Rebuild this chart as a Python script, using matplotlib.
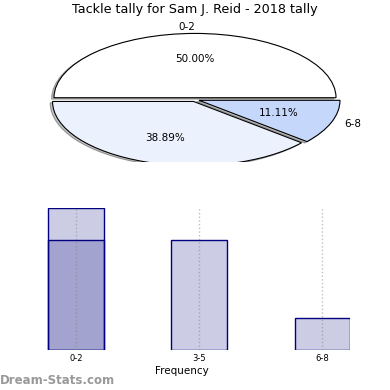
"""Tackle tally pie + bar chart for Sam J. Reid (2018)."""

import matplotlib

matplotlib.use("Agg")
import matplotlib.pyplot as plt  # noqa: E402

BINS = ["0-2", "3-5", "6-8"]
TALLY = [9, 7, 2]
OVERLAY = [7]  # darker band on the first bar
PIE_COLORS = ["#ffffff", "#ebf1fd", "#c5d7fb"]

W = H = 390.0


def px_axes(fig, x0, y0, x1, y1):
    # axes placed by pixel box (top-left origin)
    return fig.add_axes([x0 / W, 1 - y1 / H, (x1 - x0) / W, (y1 - y0) / H])


fig = plt.figure(figsize=(3.9, 3.9), dpi=100)

# --- pie (squashed ellipse, clipped at the bottom) ---
ax = px_axes(fig, 20, 18, 370, 162)
wedges, texts, autotexts = ax.pie(
    TALLY,
    labels=BINS,
    colors=PIE_COLORS,
    autopct="%.2f%%",
    startangle=0,
    counterclock=True,
    explode=[0.03, 0.03, 0.03],
    shadow=dict(ox=-0.012, oy=-0.015, facecolor="#888888"),
    wedgeprops=dict(edgecolor="black", linewidth=0.8),
    textprops=dict(fontsize=7.5),
)
ax.set_aspect("auto")
ax.set_xlim(-1.241, 1.241)
ax.set_ylim(-0.97, 1.27)
ax.axis("off")
for p in ax.patches:
    p.set_clip_on(True)
for t in texts:
    t.set_clip_on(True)
fig.text(0.5, 1 - 10 / H, "Tackle tally for Sam J. Reid - 2018 tally",
         ha="center", va="center", fontsize=9.2)

# --- bars ---
bx = px_axes(fig, 14.5, 208, 350, 350)
pos = list(range(len(BINS)))
bx.bar(pos, TALLY, width=0.45, color="navy", alpha=0.2)
bx.bar(pos, TALLY, width=0.45, color="none", edgecolor="navy", linewidth=1.0)
bx.bar(pos[:1], OVERLAY, width=0.45, color="navy", alpha=0.2)
bx.bar(pos[:1], OVERLAY, width=0.45, color="none", edgecolor="navy", linewidth=1.0)
bx.set_xlim(-0.5, 2.225)
bx.set_ylim(0, 9)
bx.set_xticks(pos)
bx.set_xticklabels(BINS, fontsize=6)
bx.tick_params(length=0, pad=3)
bx.set_yticks([])
bx.grid(axis="x", color="gray", linestyle=":", linewidth=1, alpha=0.5)
bx.set_axisbelow(False)
for s in bx.spines.values():
    s.set_visible(False)
bx.set_xlabel("Frequency", fontsize=7.5, labelpad=2)

fig.text(0.0, 1 - 380 / H, "Dream-Stats.com", ha="left", va="center",
         fontsize=8.5, color="#999999", fontweight="bold")

fig.savefig("out.png", dpi=100)
